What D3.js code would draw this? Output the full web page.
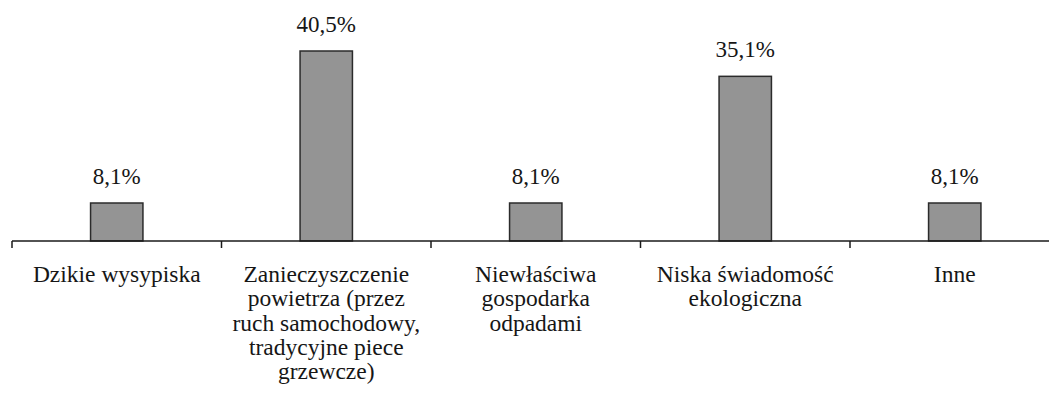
<!DOCTYPE html>
<html>
<head>
<meta charset="utf-8">
<script src="https://cdn.jsdelivr.net/npm/d3@7"></script>
<style>
  html, body { margin: 0; padding: 0; background: #fff; }
</style>
</head>
<body>
<div id="chart"></div>
<script>
// values (percent of answers)
const categories = ["dzikie", "powietrze", "odpady", "swiadomosc", "inne"];
const categoryLines = [
  ["Dzikie wysypiska"],
  ["Zanieczyszczenie", "powietrza (przez", "ruch samochodowy,", "tradycyjne piece", "grzewcze)"],
  ["Niewłaściwa", "gospodarka", "odpadami"],
  ["Niska świadomość", "ekologiczna"],
  ["Inne"]
];
const values = [8.1, 40.5, 8.1, 35.1, 8.1];
const valueLabels = ["8,1%", "40,5%", "8,1%", "35,1%", "8,1%"];

const width = 1049;
const height = 405;
const axisY = 241;

const svg = d3.select("#chart")
  .append("svg")
  .attr("width", width)
  .attr("height", height)
  .style("font-family", "serif");

let x = d3.scaleBand()
  .domain(categories)
  .range([12, 1059.5])
  .paddingInner(0.75)
  .paddingOuter(0.375);

let y = d3.scaleLinear()
  .domain([0, 40.5])
  .range([axisY, 51]);

// bars
svg.selectAll("rect.bar")
  .data(values)
  .enter()
  .append("rect")
  .attr("class", "bar")
  .attr("x", (d, i) => x(categories[i]))
  .attr("width", x.bandwidth())
  .attr("y", (d) => y(d))
  .attr("height", (d) => y(0) - y(d))
  .attr("fill", "#949494")
  .attr("stroke", "#2b2b2b")
  .attr("stroke-width", 1.5);

// value labels
svg.selectAll("text.value")
  .data(values)
  .enter()
  .append("text")
  .attr("class", "value")
  .attr("x", (d, i) => x(categories[i]) + x.bandwidth() / 2)
  .attr("y", (d) => y(d) - 19)
  .attr("text-anchor", "middle")
  .style("font-family", (d) => "serif")
  .style("font-size", "23px")
  .attr("fill", "#161616")
  .text((d, i) => valueLabels[i]);

// axis line + ticks on band edges
svg.append("line")
  .attr("x1", 12)
  .attr("x2", width)
  .attr("y1", axisY)
  .attr("y2", axisY)
  .attr("stroke", "#1a1a1a")
  .attr("stroke-width", 1.5);

const step = x.step();
svg.selectAll("line.tick")
  .data(categories)
  .enter()
  .append("line")
  .attr("class", "tick")
  .attr("x1", (d) => x(d) - step * 0.375)
  .attr("x2", (d) => x(d) - step * 0.375)
  .attr("y1", axisY)
  .attr("y2", axisY + 7)
  .attr("stroke", "#1a1a1a")
  .attr("stroke-width", 1.5);

// category labels
let labels = svg.selectAll("text.cat")
  .data(categories)
  .enter()
  .append("text")
  .attr("class", "cat")
  .attr("text-anchor", "middle")
  .style("font-family", (d) => "serif")
  .style("font-size", "23.5px")
  .attr("fill", "#161616");

labels.each(function (d, i) {
  const cx = x(d) + x.bandwidth() / 2;
  d3.select(this)
    .selectAll("tspan")
    .data(categoryLines[i])
    .enter()
    .append("tspan")
    .attr("x", cx)
    .attr("y", (t, j) => 282 + j * 24.3)
    .style("font-family", "serif")
    .text((t) => t);
});
</script>
</body>
</html>
